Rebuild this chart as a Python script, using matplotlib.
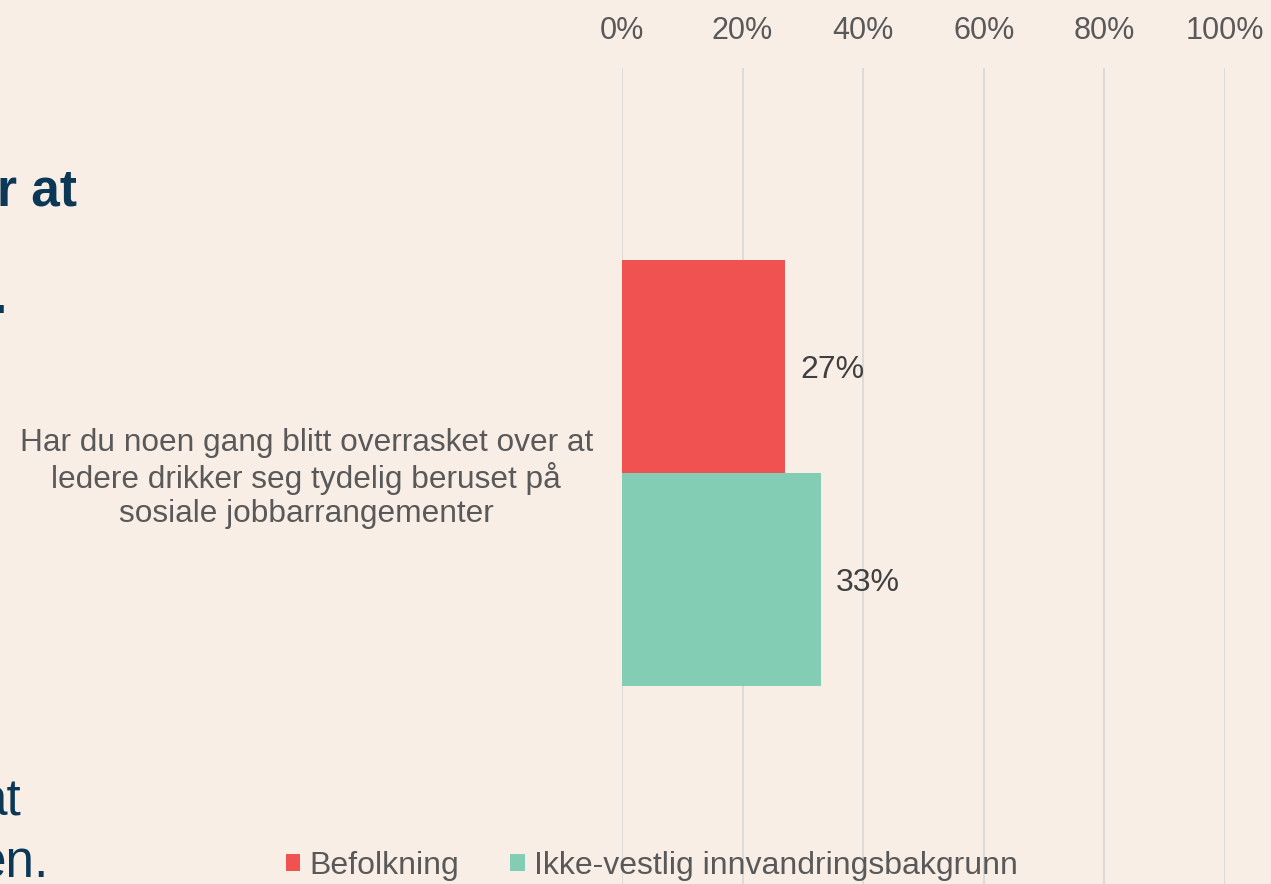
import matplotlib.pyplot as plt
from matplotlib.ticker import PercentFormatter

plt.rcParams['font.family'] = ['Liberation Sans', 'DejaVu Sans']

question = "Har du noen gang blitt overrasket over at\nledere drikker seg tydelig beruset på\nsosiale jobbarrangementer"
series = ["Befolkning", "Ikke-vestlig innvandringsbakgrunn"]
values = [27, 33]
colors = ["#F05252", "#83CDB5"]
xticks = [0, 20, 40, 60, 80, 100]

bg = "#F9EEE6"
W, H = 1271, 884
fig = plt.figure(figsize=(W / 100, H / 100), dpi=100, facecolor=bg)
ax = fig.add_axes([622 / W, 0, (1225 - 622) / W, (884 - 68) / H])
ax.set_facecolor(bg)

bar_h = 0.5
offsets = [bar_h / 2, -bar_h / 2]
for name, v, c, off in zip(series, values, colors, offsets):
    b = ax.barh(0 + off, v, height=bar_h, color=c, label=name, zorder=3)
    lbls = ax.bar_label(b, labels=[f"{v}%"], padding=11, fontsize=23, color="#404040")
    for t in lbls:
        t.set_va('center_baseline')

ax.set_xlim(0, 100)
ax.set_ylim(-411 / 426, 405 / 426)
ax.xaxis.tick_top()
ax.set_xticks(xticks)
ax.xaxis.set_major_formatter(PercentFormatter(decimals=0))
ax.tick_params(axis='x', length=0, pad=16, labelsize=22, labelcolor="#595959")
ax.set_yticks([0], labels=[question])
ax.tick_params(axis='y', length=0, pad=21, labelsize=22.8, labelcolor="#595959")
for t in ax.get_yticklabels():
    t.set_multialignment('center')
    t.set_linespacing(1.17)
ax.grid(axis='x', color="#D9D9D9", linewidth=1.3, zorder=0)
for s in ax.spines.values():
    s.set_visible(False)

leg = fig.legend(loc='center', bbox_to_anchor=(652 / W, 1 - 866 / H), ncol=2,
                 frameon=False, fontsize=23, handlelength=0.45, handleheight=0.45,
                 handletextpad=0.3, columnspacing=1.6, borderpad=0)
for t in leg.get_texts():
    t.set_color("#595959")

# cut-off slide text on the left
navy = "#0B3856"
fig.text(77 / W, 1 - 206 / H, "r at", ha='right', va='baseline', fontsize=37,
         fontweight='bold', color=navy)
fig.text(7 / W, 1 - 313 / H, ".", ha='right', va='baseline', fontsize=37,
         fontweight='bold', color=navy)
fig.text(22 / W, 1 - 815 / H, "at", ha='right', va='baseline', fontsize=37, color=navy)
fig.text(49 / W, 1 - 878 / H, "en.", ha='right', va='baseline', fontsize=37, color=navy)

fig.savefig("out.png", dpi=100, facecolor=bg)
